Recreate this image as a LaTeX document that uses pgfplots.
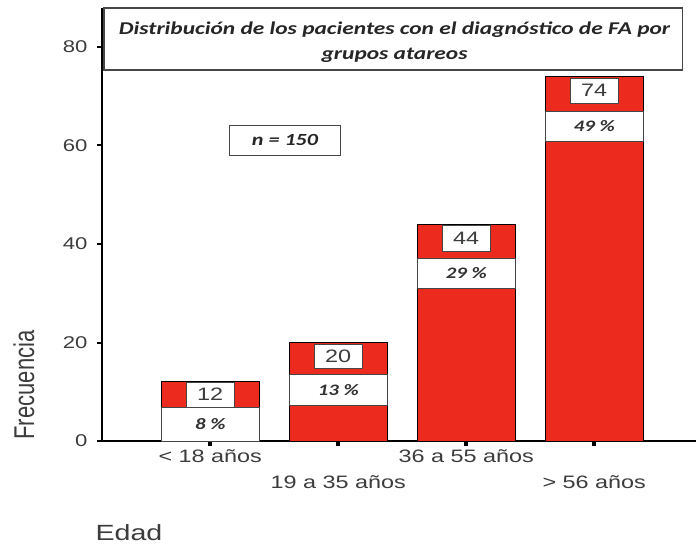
\documentclass[border=0pt]{standalone}
\usepackage{fontspec}
\setmainfont{Liberation Sans}
\newfontfamily\calfont{Carlito}
\usepackage{graphicx}
\usepackage{pgfplots}
\pgfplotsset{compat=1.18}
\definecolor{barred}{RGB}{236,42,30}
\definecolor{txtgray}{RGB}{60,60,60}
\definecolor{boxgray}{RGB}{70,70,70}
\newcommand\sx[1]{\scalebox{1.3}[1]{#1}}
\newcommand\ar{\fontsize{17}{20}\selectfont}
% #1 x, #2 num y-center, #3 num height, #4 num, #5 pct y-center, #6 pct height, #7 pct
\newcommand\annot[7]{%
  \node[draw=boxgray, line width=1pt, fill=white, inner sep=0pt, minimum width=98pt, minimum height=#6pt, text=black!80]
    at (axis cs:#1,#5) {\sx{\calfont\bfseries\itshape\fontsize{16}{16}\selectfont #7}};
  \node[draw=boxgray, line width=1pt, fill=white, inner sep=0pt, minimum width=48pt, minimum height=#3pt, text=txtgray]
    at (axis cs:#1,#2) {\sx{\fontsize{18}{18}\selectfont #4}};
}
\begin{document}
\begin{tikzpicture}
\begin{axis}[
  scale only axis,
  width=594pt, height=433pt,
  xmin=-0.846, xmax=3.795,
  ymin=0, ymax=87.9,
  axis x line=bottom, axis y line=left,
  axis line style={-, black, line width=1.2pt},
  clip=false,
  xtick={0,2},
  xticklabels={\sx{< 18 años}, \sx{36 a 55 años}},
  extra x ticks={1,3},
  extra x tick labels={\sx{19 a 35 años}, \sx{> 56 años}},
  extra x tick style={tick label style={yshift=-24pt}},
  xticklabel style={font=\fontsize{18}{18}\selectfont, text=txtgray},
  ytick={0,20,40,60,80},
  yticklabels={\sx{0},\sx{20},\sx{40},\sx{60},\sx{80}},
  yticklabel style={font=\ar, text=txtgray, xshift=-6pt},
  tick align=outside,
  major tick length=5pt,
  xtick style={black, line width=4pt},
  ytick style={black, line width=2pt},
  extra tick style={black, line width=4pt},
]
\addplot[ybar, bar width=98pt, fill=barred, draw=black, line width=1pt]
  coordinates {(0,12) (1,20) (2,44) (3,74)};

\annot{0}{9.44}{25}{12}{3.45}{34}{8 \%}
\annot{1}{17.15}{24}{20}{10.45}{31}{13 \%}
\annot{2}{41.11}{26}{44}{34.1}{30}{29 \%}
\annot{3}{71.15}{25}{74}{63.95}{30}{49 \%}

% title box
\draw[boxgray, line width=1.5pt, fill=white] (axis cs:-0.83,87.9) rectangle (axis cs:3.69,75.3);
\node[align=center, text=black!85, font=\calfont\bfseries\itshape\fontsize{18}{25}\selectfont]
  at (axis cs:1.44,81.0) {\sx{Distribución de los pacientes con el diagnóstico de FA por}\\ \sx{grupos atareos}};

% n = 150
\node[draw=boxgray, line width=1pt, fill=white, inner sep=0pt, minimum width=110pt, minimum height=30pt, text=black!85]
  at (axis cs:0.584,61.1) {\sx{\calfont\bfseries\itshape\fontsize{17}{17}\selectfont n = 150}};

% axis labels
\node[text=txtgray] at (axis cs:-1.455,11.37) {\scalebox{1.3}[1]{\rotatebox{90}{\fontsize{22}{22}\selectfont Frecuencia}}};
\node[text=txtgray] at (axis cs:-0.635,-18.6) {\sx{\fontsize{22}{22}\selectfont Edad}};

\coordinate (bbA) at (axis cs:-1.6426,-20.91);
\coordinate (bbB) at (axis cs:3.795,89.53);
\end{axis}
\pgfresetboundingbox
\path[use as bounding box] (bbA) rectangle (bbB);
\end{tikzpicture}
\end{document}
